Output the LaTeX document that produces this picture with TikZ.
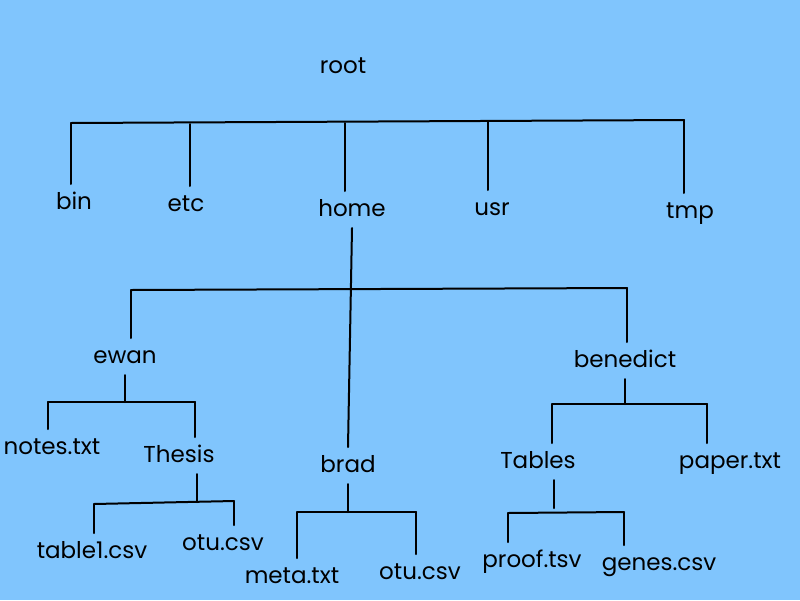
\documentclass[tikz,border=0pt]{standalone}
\usepackage{fontspec}
\setmainfont{Poppins}
\definecolor{sky}{RGB}{128,197,253}
\tikzset{
  fname/.style={anchor=base, inner sep=0pt, outer sep=7pt, text height=18pt, text depth=5pt, font=\fontsize{23}{27}\selectfont},
  branch/.style={line width=2pt, line cap=round},
}
\begin{document}
\begin{tikzpicture}[x=1pt, y=-1pt]
        \fill[sky] (0,0) rectangle (800,600);
        \useasboundingbox (0,0) rectangle (800,600);

        \node[fname] (root) at (343,73) {root};
        \node[fname] (bin) at (74,209) {bin};
        \node[fname] (etc) at (186,211) {etc};
        \node[fname] (home) at (352,216) {home};
        \node[fname] (usr) at (492,215) {usr};
        \node[fname] (tmp) at (690,218) {tmp};
        \node[fname] (ewan) at (125,363) {ewan};
        \node[fname] (benedict) at (625,367) {benedict};
        \node[fname] (notes) at (52,454) {notes.txt};
        \node[fname] (thesis) at (179,462) {Thesis};
        \node[fname] (brad) at (348,472) {brad};
        \node[fname] (tables) at (538,468) {Tables};
        \node[fname] (paper) at (730,468) {paper.txt};
        \node[fname] (table1) at (92,558) {table1.csv};
        \node[fname] (otuA) at (223,550) {otu.csv};
        \node[fname] (meta) at (292,583) {meta.txt};
        \node[fname] (otuB) at (420,579) {otu.csv};
        \node[fname] (proof) at (532,567) {proof.tsv};
        \node[fname] (genes) at (659,570) {genes.csv};

        % root level
        \coordinate (rb1) at (71,123); \coordinate (rb2) at (190,124); \coordinate (rb3) at (345,123);
        \coordinate (rb4) at (488,122); \coordinate (rb5) at (684,120);
        \draw[branch] (rb1) -- (rb5);
        \draw[branch] (rb1) -- (rb1 |- bin.north); \draw[branch] (rb2) -- (rb2 |- etc.north);
        \draw[branch] (rb3) -- (rb3 |- home.north); \draw[branch] (rb4) -- (rb4 |- usr.north);
        \draw[branch] (rb5) -- (rb5 |- tmp.north);

        % home
        \coordinate (ub1) at (131,290); \coordinate (ub2) at (627,288);
        \draw[branch] (home.south) -- (brad.north);
        \draw[branch] (ub1) -- (ub2);
        \draw[branch] (ub1) -- (ub1 |- ewan.north); \draw[branch] (ub2) -- (ub2 |- benedict.north);

        % ewan
        \coordinate (eb1) at (48,402); \coordinate (eb2) at (195,402);
        \draw[branch] (ewan.south) -- (ewan.south |- eb1);
        \draw[branch] (eb1) -- (eb2);
        \draw[branch] (eb1) -- (eb1 |- notes.north); \draw[branch] (eb2) -- (eb2 |- thesis.north);
        \coordinate (tb0) at (197,502); \coordinate (tb1) at (94,504); \coordinate (tb2) at (234,501);
        \draw[branch] (tb0) -- (tb0 |- thesis.south);
        \draw[branch] (tb1) -- (tb2);
        \draw[branch] (tb1) -- (tb1 |- table1.north); \draw[branch] (tb2) -- (tb2 |- otuA.north);

        % brad
        \coordinate (bb1) at (297,512); \coordinate (bb2) at (416,512);
        \draw[branch] (brad.south) -- (brad.south |- bb1);
        \draw[branch] (bb1) -- (bb2);
        \draw[branch] (bb1) -- (bb1 |- meta.north); \draw[branch] (bb2) -- (bb2 |- otuB.north);

        % benedict
        \coordinate (db1) at (552,404); \coordinate (db2) at (707,404);
        \draw[branch] (benedict.south) -- (benedict.south |- db1);
        \draw[branch] (db1) -- (db2);
        \draw[branch] (db1) -- (db1 |- tables.north); \draw[branch] (db2) -- (db2 |- paper.north);
        \coordinate (xb0) at (554,508); \coordinate (xb1) at (508,513); \coordinate (xb2) at (624,512);
        \draw[branch] (xb0) -- (xb0 |- tables.south);
        \draw[branch] (xb1) -- (xb2);
        \draw[branch] (xb1) -- (xb1 |- proof.north); \draw[branch] (xb2) -- (xb2 |- genes.north);
\end{tikzpicture}
\end{document}
